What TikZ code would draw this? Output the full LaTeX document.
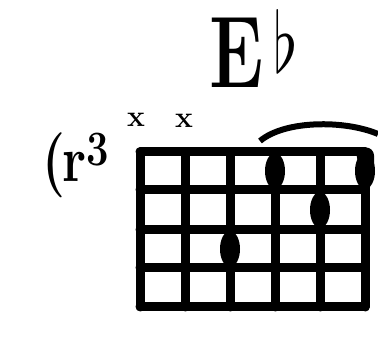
\documentclass[tikz,border=0pt]{standalone}
\usepackage{amsmath,amssymb}
\usepackage{xcolor}
\usepackage{tikz}
\usetikzlibrary{calc,positioning}
\colorlet{inkdark}{black}
\tikzset{
  gridline/.style={inkdark,line width=9pt,line cap=round},
  mutemark/.style={inkdark,font=\bfseries\fontsize{30}{30}\selectfont,inner sep=0pt},
}
\newcommand{\fingerdot}[2]{%
  \fill[inkdark] (#1,#2) ellipse (10 and 18);}

\begin{document}
\begin{tikzpicture}[x=1pt,y=1pt]
\useasboundingbox (0,0) rectangle (378,342);
% chord name
\node[anchor=base west,inner sep=0pt] (chordname) at (209,254)
  {\scalebox{0.72}[1]{\fontsize{102}{102}\bfseries\selectfont E}};
\node[anchor=north west,inner sep=0pt] (flatsign) at (273,333)
  {\scalebox{6.3}[8.4]{$\flat$}};
% fret position
\node[anchor=base west,inner sep=0pt] (fretpos) at (42,160)
  {\scalebox{1.05}[1.3]{\fontsize{50}{50}\bfseries\selectfont ({\kern-3pt}r\raisebox{13pt}{\fontsize{38}{38}\selectfont 3}}};
% fretboard
\foreach \x in {140,185,230,275,320,365}
  \draw[gridline] (\x,190) -- (\x,35);
\foreach \y in {190,152,112,74,35}
  \draw[gridline] (140,\y) -- (365,\y);
\fill[inkdark] (355,194.5) -- (366,194.5) arc (90:0:8) -- (374,170) -- (360,170) -- cycle;
% muted strings
\node[mutemark] (mute1) at (136,222) {x};
\node[mutemark] (mute2) at (184,221) {x};
% barre
\draw[inkdark,line width=6pt] (260,201) .. controls (285,222) and (345,222) .. (378,208);
% fingers
\fingerdot{275}{171}
\fingerdot{365}{171}
\fingerdot{320}{132}
\fingerdot{230}{93}
\end{tikzpicture}
\end{document}
